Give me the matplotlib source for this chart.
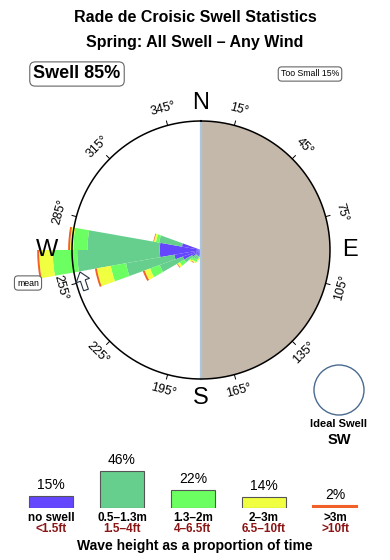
import numpy as np
import matplotlib
matplotlib.use("Agg")
import matplotlib.pyplot as plt
from matplotlib.patches import FancyArrow, Circle

plt.rcParams['font.family'] = ['Liberation Sans', 'DejaVu Sans']

# direction bins (degrees, centre of 10 degree sector)
directions = [185, 195, 205, 215, 225, 235, 245, 255, 265, 275, 285]
# cumulative outer radius of each height band (1 = compass circle)
blue_r = [0.03, 0.04, 0.05, 0.05, 0.05, 0.08, 0.15, 0.21, 0.32, 0.32, 0.15]
teal_r = [0.04, 0.06, 0.08, 0.08, 0.09, 0.15, 0.34, 0.59, 0.96, 0.88, 0.33]
green_r = [0.05, 0.07, 0.10, 0.10, 0.11, 0.19, 0.42, 0.71, 1.15, 0.99, 0.355]
yellow_r = [0.06, 0.08, 0.11, 0.11, 0.12, 0.21, 0.465, 0.82, 1.255, 1.015, 0.37]
orange_r = [0.06, 0.08, 0.11, 0.115, 0.12, 0.215, 0.48, 0.835, 1.27, 1.03, 0.375]

band_colors = ["#6446FF", "#66CF8E", "#6CFF62", "#F0FF40", "#F06028"]

tick_angles = [15, 45, 75, 105, 135, 165, 195, 225, 255, 285, 315, 345]

legend_pct = [15, 46, 22, 14, 2]
legend_m = ["no swell", "0.5\u20131.3m", "1.3\u20132m", "2\u20133m", ">3m"]
legend_ft = ["<1.5ft", "1.5\u20134ft", "4\u20136.5ft", "6.5\u201310ft", ">10ft"]

W, H = 390, 560
CX, CY, R = 201, 250, 129
RMAX = 1.35


def fx(x):
    return x / W


def fy(y):
    return 1 - y / H


fig = plt.figure(figsize=(W / 100, H / 100), dpi=100)

# titles and boxes
fig.text(fx(195), fy(18), "Rade de Croisic Swell Statistics", ha="center",
         va="center", fontsize=11.5, fontweight="bold")
fig.text(fx(195), fy(42), "Spring: All Swell \u2013 Any Wind", ha="center",
         va="center", fontsize=11.5, fontweight="bold")
fig.text(fx(77), fy(74), "Swell 85%", ha="center", va="center", fontsize=13,
         fontweight="bold",
         bbox=dict(boxstyle="round,pad=0.2,rounding_size=0.3", fc="white",
                   ec="#666666", lw=0.8))
fig.text(fx(310), fy(74), "Too Small 15%", ha="center", va="center",
         fontsize=6.3,
         bbox=dict(boxstyle="round,pad=0.3,rounding_size=0.4", fc="white",
                   ec="#666666", lw=0.8))

# rose
size = 2 * RMAX * R
ax = fig.add_axes([fx(CX - size / 2), fy(CY + size / 2), size / W, size / H],
                  projection="polar")
ax.set_theta_zero_location("N")
ax.set_theta_direction(-1)
ax.set_ylim(0, RMAX)
ax.axis("off")

# land half
ax.bar(np.pi / 2, 1.0, width=np.pi, bottom=0, color="#C4B8AB", lw=0)

theta = np.radians(directions)
bands = [blue_r, teal_r, green_r, yellow_r, orange_r]
prev = np.zeros(len(directions))
for band, col in zip(bands, band_colors):
    cur = np.array(band)
    ax.bar(theta, cur - prev, width=np.radians(10), bottom=prev, color=col,
           lw=0, clip_on=False, zorder=3)
    prev = cur

# coast line and compass circle
ax.plot([0, 0], [0, 1], color="#A9C6DE", lw=1.6, zorder=4)
ax.plot([np.pi, np.pi], [0, 1], color="#A9C6DE", lw=1.6, zorder=4)
t = np.linspace(0, 2 * np.pi, 500)
ax.plot(t, np.ones_like(t), color="black", lw=1.1, zorder=5)

for a in tick_angles:
    ax.plot([np.radians(a)] * 2, [1.0, 1.035], color="black", lw=0.7, zorder=5)
    rot = 180 - a if 90 < a < 270 else -a
    if rot < -90:
        rot += 360
    ax.text(np.radians(a), 1.13, f"{a}\u00b0", ha="center", va="center",
            rotation=rot, rotation_mode="anchor", fontsize=9)

for lab, a, r in [("N", 0, 1.14), ("E", 90, 1.155), ("S", 180, 1.15),
                  ("W", 270, 1.19)]:
    ax.text(np.radians(a), r, lab, ha="center", va="center", fontsize=17,
            zorder=6)

# overlay in pixel coords for mean marker and ideal swell
ov = fig.add_axes([0, 0, 1, 1], zorder=10)
ov.set_xlim(0, W)
ov.set_ylim(H, 0)
ov.axis("off")
ov.add_patch(FancyArrow(86, 290, -6, -18, width=5, head_width=14,
                        head_length=9, fc="white", ec="#223344", lw=0.8,
                        length_includes_head=True))
ov.text(28, 283, "mean", ha="center", va="center", fontsize=6.3,
        bbox=dict(boxstyle="round,pad=0.3,rounding_size=0.4", fc="white",
                  ec="#666666", lw=0.8))
ov.add_patch(Circle((339, 390), 25, fc="white", ec="#4A6A90", lw=1.0))
ov.text(339, 424, "Ideal Swell", ha="center", va="center", fontsize=8,
        fontweight="bold")
ov.text(339, 440, "SW", ha="center", va="center", fontsize=10.5,
        fontweight="bold")

# legend bars
step = 71
lax = fig.add_axes([fx(51 - step / 2), fy(508), 5 * step / W, 40 / H])
lax.set_xlim(-0.5, 4.5)
lax.set_ylim(0, 50)
lax.axis("off")
x = np.arange(len(legend_pct))
edge = ["#555555"] * 4 + [band_colors[4]]
lax.bar(x, legend_pct, width=0.63, color=band_colors, edgecolor=edge,
        lw=[0.8, 0.8, 0.8, 0.8, 1.5])
for i, v in enumerate(legend_pct):
    lax.annotate(f"{v}%", (i, v), xytext=(0, 3), textcoords="offset points",
                 ha="center", va="bottom", fontsize=10, annotation_clip=False)
    fig.text(fx(51 + i * step), fy(518), legend_m[i], ha="center",
             va="center", fontsize=8.5, fontweight="bold")
    fig.text(fx(51 + i * step), fy(529), legend_ft[i], ha="center",
             va="center", fontsize=8.5, fontweight="bold", color="#8B1515")

fig.text(fx(195), fy(546), "Wave height as a proportion of time",
         ha="center", va="center", fontsize=10, fontweight="bold")

fig.savefig("out.png", dpi=100)
